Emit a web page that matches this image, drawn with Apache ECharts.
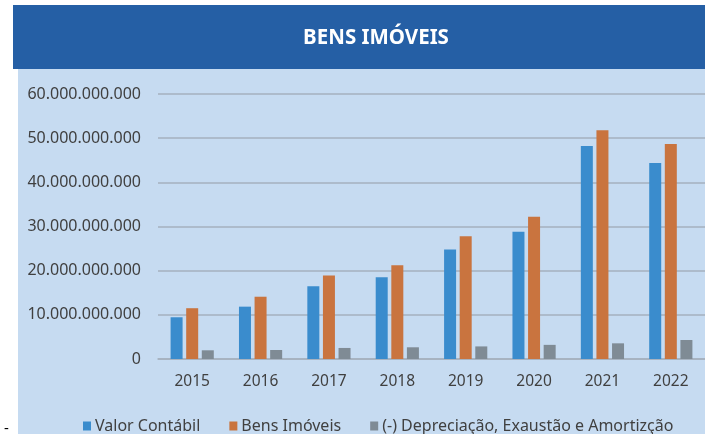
<!DOCTYPE html>
<html>
<head>
<meta charset="utf-8">
<script src="https://cdn.jsdelivr.net/npm/echarts@6/dist/echarts.min.js"></script>
<style>
  html, body { margin: 0; padding: 0; background: #fff; }
  #chart { width: 705px; height: 434px; }
</style>
</head>
<body>
<div id="chart"></div>
<script>
const years = ['2015', '2016', '2017', '2018', '2019', '2020', '2021', '2022'];
const valorContabil = [9.45e9, 11.85e9, 16.45e9, 18.5e9, 24.8e9, 28.8e9, 48.2e9, 44.4e9];
const bensImoveis = [11.5e9, 14.1e9, 18.9e9, 21.2e9, 27.8e9, 32.2e9, 51.8e9, 48.7e9];
const depreciacao = [1.97e9, 2.04e9, 2.5e9, 2.65e9, 2.85e9, 3.2e9, 3.55e9, 4.3e9];

const seriesNames = ['Valor Contábil', 'Bens Imóveis', '(-) Depreciação, Exaustão e Amortizção'];
const colors = ['#3a8ccd', '#c9743f', '#7f8b95'];
const textColor = '#404040';
const font = 'Noto Sans';

function fmt(v) {
    if (v === 0) return '0';
    return String(Math.round(v)).replace(/\B(?=(\d{3})+(?!\d))/g, '.');
}

const option = {
    backgroundColor: '#ffffff',
    animation: false,
    color: colors,
    graphic: [
        {type: 'rect', shape: {x: 13, y: 5, width: 692, height: 64}, style: {fill: '#255fa5'}, z: -10},
        {type: 'rect', shape: {x: 18, y: 69, width: 687, height: 365}, style: {fill: '#c6dbf1'}, z: -10},
        {type: 'text', left: 4, top: 421, style: {text: '-', font: '15px "Noto Sans"', fill: '#000'}}
    ],
    title: {
        text: 'BENS IMÓVEIS',
        left: 371,
        top: 23,
        textAlign: 'center',
        textStyle: {color: '#fff', fontFamily: font, fontWeight: 'bold', fontSize: 20.5}
    },
    legend: {
        top: 413,
        left: 78,
        itemWidth: 8,
        itemHeight: 9,
        itemGap: 29,
        icon: 'rect',
        textStyle: {color: textColor, fontFamily: font, fontSize: 16, padding: [0, 0, 0, -1]},
        data: seriesNames
    },
    grid: {left: 158, right: -5, top: 94, bottom: 75},
    xAxis: {
        type: 'category',
        data: years,
        axisLine: {show: true, lineStyle: {color: '#a5b1be', width: 1.5}},
        axisTick: {show: false},
        axisLabel: {color: textColor, fontFamily: font, fontSize: 15.5, margin: 15}
    },
    yAxis: {
        type: 'value',
        min: 0,
        max: 60e9,
        interval: 10e9,
        axisLine: {show: false},
        axisTick: {show: false},
        splitLine: {lineStyle: {color: '#a5b1be', width: 1.5}},
        axisLabel: {color: textColor, fontFamily: font, fontSize: 16, margin: 17, formatter: fmt}
    },
    series: [
        {name: seriesNames[0], type: 'bar', data: valorContabil, barWidth: 12, barGap: '30%'},
        {name: seriesNames[1], type: 'bar', data: bensImoveis, barWidth: 12, barGap: '30%'},
        {name: seriesNames[2], type: 'bar', data: depreciacao, barWidth: 12, barGap: '30%'}
    ]
};

const chart = echarts.init(document.getElementById('chart'));
chart.setOption(option);
</script>
</body>
</html>
